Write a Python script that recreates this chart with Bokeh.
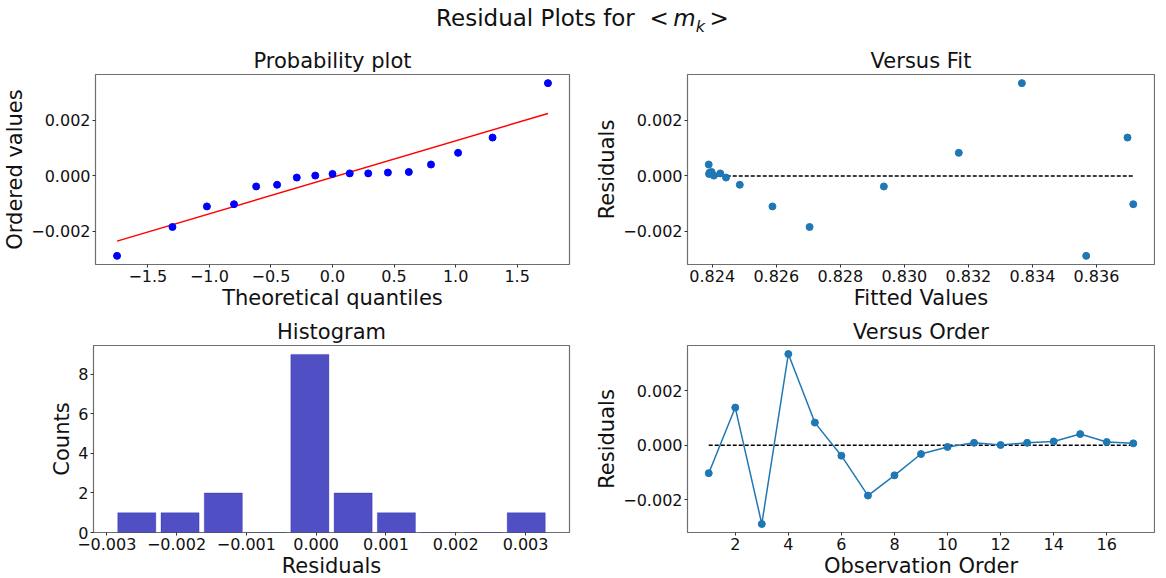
from bokeh.plotting import figure
from bokeh.models import Range1d, FixedTicker, Div
from bokeh.layouts import column, row
from bokeh.embed import file_html
from bokeh.resources import INLINE

# ---------------- data ----------------
observation = list(range(1, 18))
residuals = [-0.00102, 0.00138, -0.00288, 0.00334, 0.00083, -0.00038, -0.00184, -0.00110,
             -0.00032, -0.00006, 0.00009, 0.00001, 0.00009, 0.00014, 0.00041, 0.00012, 0.00007]
fitted = [0.83715, 0.83697, 0.83568, 0.83367, 0.83170, 0.82936, 0.82704, 0.82588,
          0.82486, 0.82443, 0.82425, 0.82405, 0.82393, 0.82398, 0.82389, 0.82392, 0.82390]
theoretical_q = [-1.75, -1.30, -1.02, -0.80, -0.62, -0.45, -0.29, -0.14, 0.0,
                 0.14, 0.29, 0.45, 0.62, 0.80, 1.02, 1.30, 1.75]
fit_slope = 0.001314
fit_intercept = -0.00005
hist_edges = [-0.00288, -0.00226, -0.00164, -0.00102, -0.00040, 0.00022,
              0.00084, 0.00146, 0.00208, 0.00270, 0.00332]
hist_counts = [1, 1, 2, 0, 9, 2, 1, 0, 0, 1]

q_ticks = [-1.5, -1.0, -0.5, 0.0, 0.5, 1.0, 1.5]
q_labels = ["\u22121.5", "\u22121.0", "\u22120.5", "0.0", "0.5", "1.0", "1.5"]
res_ticks = [-0.002, 0.0, 0.002]
res_labels = ["\u22120.002", "0.000", "0.002"]
fit_ticks = [0.824, 0.826, 0.828, 0.830, 0.832, 0.834, 0.836]
fit_labels = ["0.824", "0.826", "0.828", "0.830", "0.832", "0.834", "0.836"]
hres_ticks = [-0.003, -0.002, -0.001, 0.0, 0.001, 0.002, 0.003]
hres_labels = ["\u22120.003", "\u22120.002", "\u22120.001", "0.000", "0.001", "0.002", "0.003"]
count_ticks = [0, 2, 4, 6, 8]
count_labels = ["0", "2", "4", "6", "8"]
order_ticks = [2, 4, 6, 8, 10, 12, 14, 16]
order_labels = ["2", "4", "6", "8", "10", "12", "14", "16"]

FONT = "DejaVu Sans"
C0 = "#1f77b4"


def pad(lo, hi, m=0.05):
    s = hi - lo
    return Range1d(lo - m * s, hi + m * s)


def make_fig(title, width, height, bl, br, bt, bb, xr, yr):
    p = figure(width=width, height=height, x_range=xr, y_range=yr,
               output_backend="svg", toolbar_location=None, title=title,
               min_border_left=bl, min_border_right=br,
               min_border_top=bt, min_border_bottom=bb)
    p.title.text_font = FONT
    p.title.text_font_size = "21px"
    p.title.text_font_style = "normal"
    p.title.align = "center"
    p.title.text_color = "#111111"
    p.title.standoff = 4
    p.grid.visible = False
    p.outline_line_color = "#6e6e6e"
    p.outline_line_width = 1.2
    p.background_fill_color = "white"
    p.border_fill_color = "white"
    for ax in (p.xaxis[0], p.yaxis[0]):
        ax.axis_line_color = None
        ax.major_tick_line_color = "#333333"
        ax.major_tick_out = 3
        ax.major_tick_in = 0
        ax.minor_tick_line_color = None
        ax.major_label_text_font = FONT
        ax.major_label_text_font_size = "16px"
        ax.major_label_text_color = "#111111"
        ax.major_label_standoff = 2
        ax.axis_label_text_font = FONT
        ax.axis_label_text_font_size = "21px"
        ax.axis_label_text_font_style = "normal"
        ax.axis_label_text_color = "#111111"
        ax.axis_label_standoff = 1
    return p


def set_ticks(ax, ticks, labels):
    ax.ticker = FixedTicker(ticks=ticks)
    ax.major_label_overrides = {t: l for t, l in zip(ticks, labels)}


ordered = sorted(residuals)
res_range = (min(residuals), max(residuals))

LW, RW = 592, 563
TH, BH = 274, 268

# ---------------- Probability plot ----------------
p1 = make_fig("Probability plot", LW, TH, 93, 23, 36, 47,
              pad(min(theoretical_q), max(theoretical_q)), pad(*res_range))
x_line = [min(theoretical_q), max(theoretical_q)]
p1.line(x_line, [fit_slope * v + fit_intercept for v in x_line], line_color="#ff0000", line_width=1.5)
p1.scatter(theoretical_q, ordered, size=7, fill_color="#0000ff", line_color="#0000ff")
p1.xaxis.axis_label = "Theoretical quantiles"
p1.yaxis.axis_label = "Ordered values"
set_ticks(p1.xaxis[0], q_ticks, q_labels)
set_ticks(p1.yaxis[0], res_ticks, res_labels)

# ---------------- Versus Fit ----------------
p2 = make_fig("Versus Fit", RW, TH, 86, 1, 36, 47,
              pad(min(fitted), max(fitted)), pad(*res_range))
p2.line([min(fitted), max(fitted)], [0, 0], line_color="black", line_width=1.5, line_dash="4 2")
p2.scatter(fitted, residuals, size=7, fill_color=C0, line_color=C0)
p2.xaxis.axis_label = "Fitted Values"
p2.yaxis.axis_label = "Residuals"
set_ticks(p2.xaxis[0], fit_ticks, fit_labels)
set_ticks(p2.yaxis[0], res_ticks, res_labels)

# ---------------- Histogram ----------------
centers = [(a + b) / 2 for a, b in zip(hist_edges[:-1], hist_edges[1:])]
bw = hist_edges[1] - hist_edges[0]
p3 = make_fig("Histogram", LW, BH, 93, 23, 33, 45,
              pad(hist_edges[0], hist_edges[-1]), Range1d(0, max(hist_counts) * 1.05))
p3.vbar(x=centers, top=hist_counts, width=bw * 0.88, bottom=0,
        fill_color="#0504aa", fill_alpha=0.7, line_color="#0504aa", line_alpha=0.25)
p3.xaxis.axis_label = "Residuals"
p3.yaxis.axis_label = "Counts"
set_ticks(p3.xaxis[0], hres_ticks, hres_labels)
set_ticks(p3.yaxis[0], count_ticks, count_labels)

# ---------------- Versus Order ----------------
p4 = make_fig("Versus Order", RW, BH, 86, 1, 33, 45,
              pad(min(observation), max(observation)), pad(*res_range))
p4.line([min(observation), max(observation)], [0, 0], line_color="black", line_width=1.5, line_dash="4 2")
p4.line(observation, residuals, line_color=C0, line_width=1.5)
p4.scatter(observation, residuals, size=7, fill_color=C0, line_color=C0)
p4.xaxis.axis_label = "Observation Order"
p4.yaxis.axis_label = "Residuals"
set_ticks(p4.xaxis[0], order_ticks, order_labels)
set_ticks(p4.yaxis[0], res_ticks, res_labels)

title = Div(text="<div style='padding-top:7px;line-height:28px'>Residual Plots for&nbsp;&nbsp;&lt;&thinsp;<i>m</i><sub style='font-size:70%'><i>k</i></sub>&thinsp;&gt;</div>",
            width=LW + RW, height=36,
            styles={"text-align": "center", "font-family": FONT, "font-size": "23px",
                    "color": "#111111"})

layout = column(title, row(p1, p2), row(p3, p4), margin=(-8, 0, 0, 0))

open("out.html", "w").write(file_html(layout, INLINE))
